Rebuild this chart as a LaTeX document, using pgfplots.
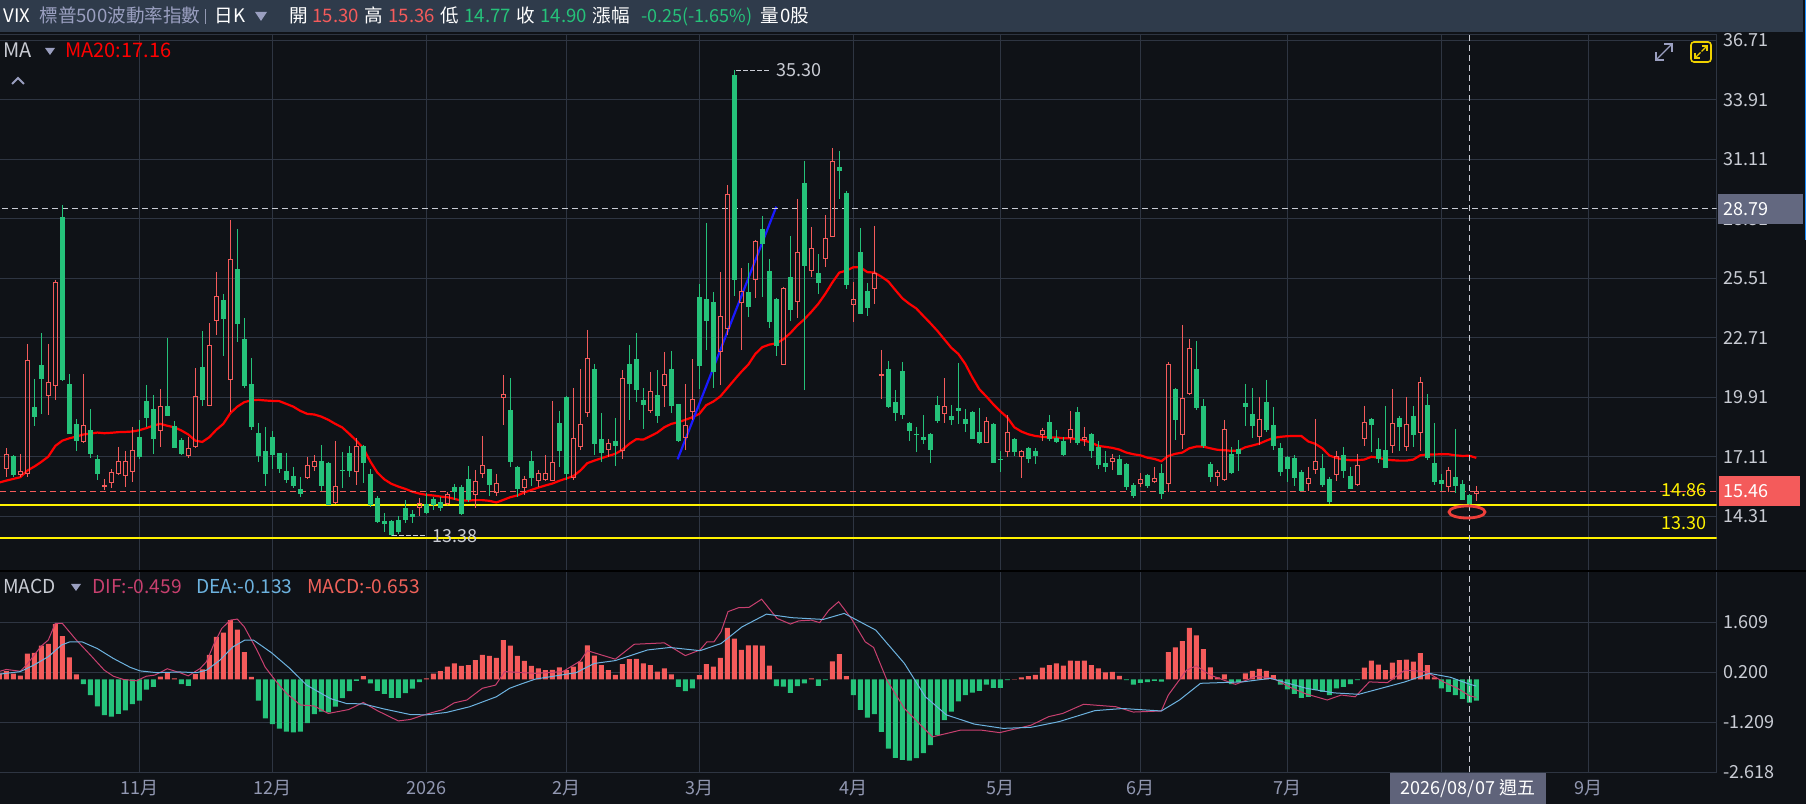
\documentclass[border=0pt]{standalone}
\usepackage{fontspec}
\usepackage{pgfplots}
\usepackage{pgfplotstable}
\pgfplotsset{compat=1.18}
\setmainfont{Noto Sans CJK TC}
\definecolor{bgc}{HTML}{0F1217}
\definecolor{hdr}{HTML}{2F3B4B}
\definecolor{gridc}{HTML}{2E3542}
\definecolor{cUp}{HTML}{F45B5B}
\definecolor{cDn}{HTML}{25C27A}
\definecolor{lab}{HTML}{C9CCD4}
\definecolor{mon}{HTML}{9298B2}
\definecolor{tri}{HTML}{9A9FC0}
\definecolor{difc}{HTML}{C8406F}
\definecolor{deac}{HTML}{6DB3E0}
\definecolor{blu1}{HTML}{1A1AFF}
\definecolor{sliver}{HTML}{1E90FF}
\definecolor{macdt}{HTML}{F0625A}
\definecolor{boxg}{HTML}{636880}
\definecolor{boxd}{HTML}{5F637A}
\definecolor{ygold}{HTML}{F0D200}
\definecolor{ell}{HTML}{EE3F3A}
\newcommand{\lbl}{\fontsize{9}{11}\selectfont}
\newcommand{\lblh}{\fontsize{9.3}{11}\selectfont}
\newcommand{\lbla}{\fontsize{10}{12}\selectfont}
\newcommand{\lblm}{\fontsize{9.6}{12}\selectfont}
\pgfplotstableread{
i o h l c
-1 16.73 17.12 16.18 16.34
0 16.57 17.51 16.18 17.23
1 17.15 17.18 16.18 16.26
2 16.27 17.25 16.18 16.43
3 16.34 22.42 16.18 21.65
4 19.44 20.78 18.57 19.00
5 21.44 22.93 19.13 20.78
6 19.99 22.42 19.08 20.62
7 20.46 25.44 19.79 25.29
8 28.38 28.96 20.68 20.73
9 20.54 21.01 18.19 18.19
10 18.66 18.89 17.36 17.83
11 17.84 21.01 17.75 18.60
12 18.38 19.35 17.03 17.25
13 17.01 17.18 16.00 16.31
14 15.73 16.05 15.55 15.76
15 15.90 16.53 15.62 16.38
16 16.32 17.58 16.24 16.90
17 16.23 17.39 15.71 16.90
18 16.42 18.50 15.93 17.42
19 18.05 18.85 17.00 17.11
20 19.74 20.49 18.50 18.94
21 19.36 20.02 17.25 17.95
22 18.35 20.31 17.59 19.49
23 19.51 22.69 19.04 19.04
24 18.57 18.80 17.53 17.53
25 17.91 17.98 17.20 17.25
26 17.17 18.06 17.07 17.51
27 17.59 21.29 17.51 19.96
28 21.34 23.04 19.52 19.79
29 19.52 23.40 19.52 22.36
30 23.54 25.81 22.85 24.67
31 24.49 24.78 21.87 23.60
32 20.75 28.26 19.24 26.41
33 25.95 27.84 22.49 23.36
34 22.66 23.65 20.37 20.45
35 20.54 21.76 18.35 18.52
36 18.24 18.71 16.87 17.15
37 17.39 18.52 15.74 16.31
38 18.05 18.33 16.53 17.20
39 17.29 17.29 16.37 16.54
40 16.45 17.29 15.87 16.02
41 16.21 16.64 15.62 15.74
42 15.60 16.15 15.24 15.37
43 16.12 17.11 16.05 16.68
44 16.65 17.18 16.42 16.90
45 16.92 17.67 15.52 15.74
46 16.82 16.87 14.85 14.85
47 14.94 17.86 14.89 15.73
48 16.49 17.34 15.62 16.45
49 17.29 17.62 16.16 16.45
50 16.42 18.00 15.79 17.61
51 17.62 17.67 15.88 16.82
52 16.31 16.53 14.77 14.85
53 15.18 15.27 14.00 14.05
54 14.09 14.47 13.58 13.95
55 14.09 14.14 13.38 13.44
56 14.14 14.33 13.48 13.58
57 14.71 15.08 13.98 14.14
58 14.42 14.61 13.98 14.30
59 14.74 15.16 14.33 14.93
60 14.89 15.40 14.42 14.47
61 15.13 15.24 14.61 14.86
62 14.99 15.24 14.56 14.71
63 14.89 15.47 14.85 15.35
64 15.69 15.84 15.08 15.44
65 15.69 15.79 14.38 14.42
66 16.07 16.68 15.00 15.08
67 15.32 16.49 14.71 15.96
68 16.31 18.09 16.13 16.71
69 16.54 16.54 15.27 15.79
70 15.43 16.31 15.27 15.87
71 19.88 20.96 18.61 20.05
72 19.32 20.82 16.65 16.87
73 16.64 16.70 15.24 15.60
74 15.66 16.21 15.29 16.05
75 16.92 17.39 15.74 16.12
76 16.00 16.49 15.71 16.34
77 16.04 17.20 16.02 16.34
78 16.00 19.74 15.98 16.86
79 18.71 19.27 16.65 17.39
80 19.93 19.98 16.02 16.31
81 16.15 20.35 16.02 17.98
82 17.59 21.25 17.44 18.64
83 19.19 23.08 18.97 21.75
84 21.25 21.48 17.20 17.72
85 17.95 19.18 16.87 17.29
86 17.45 17.95 17.12 17.75
87 17.86 18.94 16.68 17.62
88 17.42 21.18 17.01 20.81
89 21.48 22.38 18.85 20.54
90 21.72 22.94 19.69 20.26
91 19.79 20.34 18.42 19.55
92 19.27 21.11 19.16 20.20
93 20.02 21.18 18.71 19.04
94 20.46 22.05 19.47 21.00
95 21.25 22.09 19.18 19.51
96 19.60 19.60 17.81 17.86
97 18.00 20.53 17.44 18.60
98 19.24 21.70 18.85 19.82
99 24.64 25.25 20.29 21.39
100 24.54 28.12 22.14 23.51
101 24.40 24.87 20.35 21.11
102 22.06 25.81 20.49 23.73
103 23.15 29.91 22.85 29.47
104 35.08 35.30 24.68 25.44
105 24.37 25.98 22.14 24.89
106 24.87 26.22 23.71 24.16
107 25.47 27.32 24.57 27.25
108 27.84 28.45 24.65 27.13
109 25.86 26.42 23.19 23.46
110 24.54 24.60 21.83 22.33
111 21.47 25.11 21.44 25.04
112 25.58 27.51 23.52 24.02
113 24.42 29.25 23.62 26.74
114 30.00 31.04 20.23 26.09
115 25.89 27.93 25.59 26.93
116 25.76 26.66 24.79 25.29
117 26.45 28.49 26.06 27.40
118 27.49 31.65 27.49 31.02
119 30.75 31.51 29.25 30.58
120 29.51 29.62 25.01 25.20
121 24.27 25.34 23.46 24.53
122 26.75 27.88 23.84 23.84
123 24.92 25.28 23.74 24.12
124 25.03 27.98 24.31 25.75
125 20.93 22.14 19.84 21.00
126 21.25 21.62 19.41 19.46
127 19.69 20.26 18.80 19.18
128 21.15 21.58 18.89 19.08
129 18.71 18.75 17.86 18.33
130 18.19 18.52 17.34 18.14
131 18.05 19.08 17.72 17.91
132 18.19 18.24 16.82 17.44
133 19.55 19.98 18.71 18.80
134 19.14 20.81 18.72 19.49
135 19.04 19.55 18.61 18.85
136 19.41 21.53 18.66 19.27
137 18.89 19.36 18.28 18.66
138 19.22 19.27 17.95 17.95
139 18.28 19.41 17.72 17.76
140 17.78 18.97 17.78 18.78
141 18.66 18.71 16.82 16.82
142 17.01 17.39 16.40 16.96
143 17.36 19.08 17.11 18.27
144 17.95 18.00 17.15 17.34
145 17.12 17.44 16.12 17.37
146 17.53 17.58 16.82 17.01
147 17.39 17.53 16.78 17.15
148 18.16 18.47 17.86 18.36
149 18.75 19.08 17.86 17.95
150 18.00 18.38 17.76 17.81
151 17.86 18.05 17.15 17.20
152 18.02 19.25 17.78 18.41
153 19.22 19.46 17.67 17.76
154 17.94 18.52 17.62 18.03
155 18.19 18.24 17.06 17.39
156 17.58 17.86 16.54 16.73
157 16.82 17.39 16.40 16.64
158 16.87 17.25 16.49 17.01
159 17.01 17.20 16.26 16.26
160 16.78 16.82 15.55 15.69
161 15.79 15.88 15.18 15.27
162 15.84 16.35 15.69 16.05
163 16.26 16.31 15.65 15.74
164 15.95 16.64 15.88 16.07
165 16.35 16.78 15.13 15.37
166 15.85 21.58 15.46 21.47
167 20.31 20.35 17.91 18.85
168 18.14 23.32 17.48 19.87
169 20.07 22.66 20.02 22.22
170 21.25 22.56 19.32 19.41
171 19.51 19.84 17.53 17.62
172 16.78 16.87 15.93 16.16
173 16.18 16.49 15.74 16.38
174 16.02 18.85 15.99 18.41
175 17.25 17.58 16.31 16.35
176 17.48 17.91 16.45 17.25
177 19.65 20.54 18.57 19.46
178 19.13 20.35 18.00 18.57
179 18.06 19.93 17.67 18.88
180 19.69 20.73 18.28 18.38
181 18.61 19.46 17.44 17.62
182 17.53 17.76 16.21 16.40
183 17.11 17.15 15.93 16.54
184 17.06 17.20 15.74 16.12
185 16.40 16.49 15.51 15.51
186 15.85 16.64 15.51 16.10
187 16.51 18.89 16.31 16.90
188 16.59 17.25 15.69 15.79
189 16.07 16.16 14.89 14.99
190 16.27 17.39 15.98 17.12
191 17.20 17.58 16.12 16.45
192 16.21 16.64 15.60 15.60
193 15.79 17.25 15.76 16.71
194 17.97 19.51 17.62 18.74
195 18.89 18.94 17.34 18.61
196 17.48 18.00 16.82 17.01
197 17.44 19.51 16.59 16.59
198 17.64 20.31 17.29 18.69
199 18.94 19.04 17.39 18.52
200 17.59 19.93 17.39 18.64
201 19.04 19.51 17.58 18.14
202 18.25 20.87 17.39 20.62
203 19.55 20.07 16.96 17.06
204 16.82 18.71 15.79 15.93
205 16.02 16.31 15.51 15.84
206 15.71 16.64 15.47 16.48
207 16.16 18.42 15.41 15.74
208 15.84 16.02 15.08 15.08
209 15.30 15.36 14.77 14.90
210 15.39 15.74 15.04 15.46
}\candles
\pgfplotstableread{
i v
-1 15.90
0 15.99
1 16.07
2 16.15
3 16.46
4 16.65
5 16.87
6 17.12
7 17.62
8 17.87
9 17.98
10 18.06
11 18.16
12 18.20
13 18.25
14 18.22
15 18.24
16 18.27
17 18.28
18 18.30
19 18.36
20 18.46
21 18.58
22 18.66
23 18.57
24 18.50
25 18.35
26 18.16
27 17.87
28 17.81
29 18.03
30 18.38
31 18.66
32 19.16
33 19.47
34 19.68
35 19.77
36 19.79
37 19.76
38 19.74
39 19.73
40 19.60
41 19.47
42 19.27
43 19.13
44 19.10
45 19.00
46 18.85
47 18.66
48 18.49
49 18.19
50 17.87
51 17.51
52 16.89
53 16.37
54 16.05
55 15.84
56 15.71
57 15.60
58 15.47
59 15.38
60 15.32
61 15.29
62 15.24
63 15.21
64 15.13
65 15.05
66 15.05
67 15.07
68 15.07
69 15.04
70 14.96
71 15.08
72 15.21
73 15.29
74 15.43
75 15.55
76 15.66
77 15.76
78 15.85
79 15.98
80 16.09
81 16.20
82 16.46
83 16.81
84 16.93
85 17.04
86 17.15
87 17.25
88 17.44
89 17.72
90 17.94
91 17.92
92 18.08
93 18.25
94 18.50
95 18.66
96 18.74
97 18.85
98 18.97
99 19.13
100 19.54
101 19.71
102 19.95
103 20.34
104 20.73
105 21.11
106 21.45
107 21.95
108 22.27
109 22.39
110 22.45
111 22.64
112 22.93
113 23.29
114 23.58
115 23.93
116 24.31
117 24.78
118 25.31
119 25.78
120 25.87
121 26.03
122 26.03
123 25.80
124 25.78
125 25.59
126 25.36
127 24.96
128 24.57
129 24.31
130 24.09
131 23.74
132 23.40
133 23.04
134 22.64
135 22.24
136 21.95
137 21.48
138 20.85
139 20.29
140 19.95
141 19.58
142 19.25
143 18.96
144 18.50
145 18.30
146 18.17
147 18.09
148 18.05
149 18.02
150 18.02
151 17.98
152 17.98
153 17.94
154 17.87
155 17.78
156 17.62
157 17.58
158 17.53
159 17.45
160 17.31
161 17.23
162 17.18
163 17.07
164 17.01
165 16.90
166 17.15
167 17.25
168 17.31
169 17.51
170 17.59
171 17.59
172 17.51
173 17.44
174 17.42
175 17.39
176 17.40
177 17.56
178 17.64
179 17.73
180 17.87
181 18.00
182 18.05
183 18.08
184 18.09
185 18.09
186 17.83
187 17.72
188 17.51
189 17.17
190 17.06
191 16.98
192 16.95
193 16.95
194 16.98
195 17.11
196 17.07
197 16.98
198 16.95
199 16.93
200 16.93
201 16.98
202 17.18
203 17.22
204 17.22
205 17.23
206 17.23
207 17.18
208 17.15
209 17.16
210 17.06
}\matab
\pgfplotstableread{
i m
-1 .17
0 .23
1 .16
2 .11
3 .73
4 .75
5 .95
6 1.00
7 1.56
8 1.22
9 .62
10 .14
11 -.13
12 -.44
13 -.76
14 -1.01
15 -1.05
16 -.97
17 -.87
18 -.70
19 -.60
20 -.29
21 -.21
22 .08
23 .19
24 .03
25 -.13
26 -.18
27 .15
28 .28
29 .69
30 1.20
31 1.32
32 1.67
33 1.40
34 .77
35 .07
36 -.60
37 -1.10
38 -1.26
39 -1.39
40 -1.47
41 -1.49
42 -1.47
43 -1.23
44 -.98
45 -.91
46 -.93
47 -.77
48 -.53
49 -.33
50 -.04
51 .09
52 -.11
53 -.32
54 -.41
55 -.52
56 -.52
57 -.39
58 -.26
59 -.08
60 .03
61 .16
62 .23
63 .36
64 .45
65 .38
66 .40
67 .54
68 .69
69 .66
70 .61
71 1.11
72 .95
73 .66
74 .52
75 .38
76 .31
77 .26
78 .27
79 .34
80 .26
81 .36
82 .50
83 .96
84 .67
85 .40
86 .26
87 .13
88 .43
89 .57
90 .58
91 .45
92 .40
93 .22
94 .31
95 .14
96 -.21
97 -.33
98 -.25
99 .12
100 .43
101 .36
102 .61
103 1.45
104 1.15
105 .83
106 .96
107 .96
108 .95
109 .39
110 -.19
111 -.20
112 -.38
113 -.19
114 -.11
115 .03
116 -.18
117 -.02
118 .51
119 .71
120 .09
121 -.44
122 -.86
123 -1.08
124 -.98
125 -1.48
126 -1.95
127 -2.21
128 -2.27
129 -2.29
130 -2.22
131 -2.08
132 -1.85
133 -1.57
134 -1.15
135 -.91
136 -.62
137 -.44
138 -.37
139 -.32
140 -.15
141 -.24
142 -.24
143 -.02
144 .01
145 .06
146 .09
147 .13
148 .33
149 .40
150 .45
151 .39
152 .53
153 .52
154 .53
155 .40
156 .31
157 .20
158 .21
159 .10
160 -.02
161 -.15
162 -.10
163 -.08
164 -.04
165 -.06
166 .77
167 .90
168 1.08
169 1.45
170 1.24
171 .85
172 .34
173 .06
174 .14
175 -.13
176 -.07
177 .17
178 .24
179 .30
180 .24
181 .12
182 -.15
183 -.28
184 -.41
185 -.52
186 -.49
187 -.30
188 -.35
189 -.44
190 -.25
191 -.21
192 -.13
193 -.02
194 .33
195 .53
196 .42
197 .26
198 .47
199 .54
200 .56
201 .50
202 .74
203 .40
204 .06
205 -.25
206 -.35
207 -.44
208 -.55
209 -.653
210 -.60
}\macdtab
\pgfplotstableread{
i v
-0.9 .23
0 .28
2 .23
3 .43
4 .69
5 .94
6 1.11
7 1.58
8 1.58
10 1.11
12 .69
14 .26
15.3 .09
16.7 0
18.6 -.04
20 .09
21.2 .12
23 .30
24.8 .19
26 .10
27.7 .31
28.6 .50
29.6 .97
30.8 1.44
32 1.67
33 1.70
34 1.48
35.8 .83
37 .34
38.6 -.07
40 -.39
42 -.72
44 -.75
46 -.96
48.9 -.85
51 -.65
53 -.88
56 -1.17
57.7 -1.13
60 -.98
62.4 -.85
64 -.66
65.8 -.58
68 -.25
69.9 -.16
71.2 .22
75.6 .17
79.5 .22
82 .52
83 .81
87 .57
89.7 .99
94 1.03
97 .67
99.1 .83
100.1 1.06
101.1 1.06
102.1 1.34
103.1 1.91
104.6 2.02
106.1 2.03
107.9 2.26
110.1 1.72
112 1.56
113.2 1.65
115 1.67
116.2 1.60
117.5 1.95
118.9 2.19
120.7 1.72
122.7 1.06
123.9 .90
125.8 -.02
128.3 -.82
132.3 -1.62
136.3 -1.43
139.3 -1.43
141.9 -1.50
146.4 -1.29
148.9 -1.05
150.9 -.96
153.9 -.70
158.5 -.77
161 -.92
165 -.89
166 -.44
168.6 .26
170 .38
172 .12
175.6 -.14
178.6 .09
181 .03
183.7 -.25
185.7 -.41
188.7 -.58
190.7 -.44
192.7 -.49
194.7 -.07
197.3 -.09
199.8 .26
202.8 .22
205.3 -.07
207.3 -.25
209 -.459
210 -.51
}\diftab
\pgfplotstableread{
i v
-0.9 .15
2 .22
3.9 .40
6 .64
7.9 .97
9.1 1.06
10.8 1.06
13 .87
15.3 .59
17.7 .34
19.1 .24
21.5 .19
24.8 .21
27.2 .19
28.6 .26
30.5 .54
32.4 .92
34.1 1.11
35.3 1.11
37.9 .75
40.5 .31
42.9 -.16
46.3 -.54
48.6 -.68
51 -.69
53.9 -.83
57.7 -.99
60 -1.00
62.9 -.93
66.2 -.77
70 -.49
71.9 -.25
73.4 -.14
75.6 .01
81.4 .19
84 .45
87 .53
91.6 .83
94.8 .90
99.1 .81
102.1 1.01
105.1 1.48
108.6 1.84
112.2 1.74
116.7 1.69
119.7 1.86
124.2 1.39
128.3 .45
131.3 -.49
134.3 -1.00
138.3 -1.26
142.4 -1.38
146.4 -1.35
150.4 -1.19
155.5 -.88
159.5 -.82
165 -.89
167.6 -.58
170.6 -.11
176.6 -.07
180.6 .03
185.7 -.25
189.7 -.38
193.2 -.42
196.8 -.23
199.8 -.07
203.3 .17
206.3 .06
209 -.133
210 -.19
}\deatab
\def\K{10.625}
\pgfdeclareplotmark{candle}{%
  \ifdim \vC pt>0pt
    \pgfsetstrokecolor{cUp}\pgfsetlinewidth{0.5pt}%
    \pgfpathmoveto{\pgfpoint{0pt}{\vH pt}}\pgfpathlineto{\pgfpoint{0pt}{\vC pt}}%
    \pgfpathmoveto{\pgfpoint{0pt}{0pt}}\pgfpathlineto{\pgfpoint{0pt}{\vL pt}}%
    \pgfpathrectangle{\pgfpoint{-1pt}{0pt}}{\pgfpoint{2pt}{\vC pt}}%
    \pgfusepath{stroke}%
  \else
    \pgfsetstrokecolor{cDn}\pgfsetfillcolor{cDn}\pgfsetlinewidth{0.5pt}%
    \pgfpathmoveto{\pgfpoint{0pt}{\vH pt}}\pgfpathlineto{\pgfpoint{0pt}{\vL pt}}%
    \pgfusepath{stroke}%
    \pgfpathrectangle{\pgfpoint{-1.25pt}{0pt}}{\pgfpoint{2.5pt}{\vC pt}}%
    \pgfusepath{fill}%
  \fi
}
\pgfplotsset{
  chart/.style={
    scale only axis, width=858.35pt,
    xmin=-0.9, xmax=244.34,
    xtick={19,38,60,80,99,121,142,162,183,205,226},
    axis line style={gridc,line width=0.5pt},
    grid=major, grid style={gridc,line width=0.5pt},
    major tick length=0pt, clip=true,
    axis background/.style={fill=bgc},
    yticklabel pos=right, scaled y ticks=false,
    yticklabel style={anchor=west,inner sep=0pt,xshift=3pt,text=lab,font=\lbl},
  }
}
\newcommand{\T}[5][\lbl]{\node[anchor=base west,inner sep=0pt,text=#4,font=#1] at (#2,#3+6.5) {#5};}
\newcommand{\Tr}[4]{\node[anchor=base east,inner sep=0pt,text=#3,font=\lbl] at (#1,#2+6.5) {#4};}
\begin{document}
\begin{tikzpicture}
\path[use as bounding box,fill=bgc] (0,0) rectangle (903pt,402pt);
\begin{axis}[chart, at={(0pt,116.5pt)}, anchor=south west, height=268pt,
  ymin=11.736, ymax=36.959,
  ytick={14.31,17.11,19.91,22.71,25.51,28.31,31.11,33.91,36.71},
  yticklabel style={/pgf/number format/.cd,fixed,fixed zerofill,precision=2,assume math mode=true},
  xticklabels={}]
\addplot[scatter,only marks,mark=candle,
  visualization depends on={(\thisrow{h}-\thisrow{o})*\K \as \vH},
  visualization depends on={(\thisrow{l}-\thisrow{o})*\K \as \vL},
  visualization depends on={(\thisrow{c}-\thisrow{o})*\K \as \vC}]
  table[x=i,y=o]{\candles};
\addplot[no marks,color=red,line width=1.1pt] table[x=i,y=v]{\matab};
\addplot[no marks,color=blu1,line width=1.1pt] coordinates {(95.9,16.99) (110,28.88)};
\addplot[no marks,color=yellow,line width=1pt] coordinates {(-0.9,14.86) (244.34,14.86)};
\addplot[no marks,color=yellow,line width=1pt] coordinates {(-0.9,13.30) (244.34,13.30)};
\addplot[no marks,color=cUp,line width=0.5pt,dash pattern=on 3pt off 2pt] coordinates {(-0.9,15.46) (244.34,15.46)};
\addplot[no marks,color=lab,line width=0.5pt,dash pattern=on 3pt off 2pt] coordinates {(-0.6,28.79) (244.34,28.79)};
\addplot[no marks,color=lab,line width=0.5pt,dash pattern=on 3pt off 2pt] coordinates {(209,11.736) (209,36.959)};
\end{axis}
\begin{axis}[chart, at={(0pt,15.85pt)}, anchor=south west, height=100.65pt,
  ymin=-2.618, ymax=3.055,
  ytick={-2.618,-1.209,0.2,1.609},
  yticklabel style={/pgf/number format/.cd,fixed,fixed zerofill,precision=3,assume math mode=true},
  xticklabels={11月,12月,2026,2月,3月,4月,5月,6月,7月,{},9月},
  xticklabel style={text=mon,font=\lbl,anchor=center,yshift=-8pt}]
\addplot[ybar,bar width=2.5pt,bar shift=0pt,fill=cUp,draw=none,restrict y to domain=0:10] table[x=i,y=m]{\macdtab};
\addplot[ybar,bar width=2.5pt,bar shift=0pt,fill=cDn,draw=none,restrict y to domain=-10:0] table[x=i,y=m]{\macdtab};
\addplot[no marks,color=difc,line width=0.5pt] table[x=i,y=v]{\diftab};
\addplot[no marks,color=deac,line width=0.5pt] table[x=i,y=v]{\deatab};
\addplot[no marks,color=lab,line width=0.5pt,dash pattern=on 3pt off 2pt] coordinates {(209,-2.618) (209,3.055)};
\end{axis}
\begin{scope}[shift={(0pt,402pt)},x=0.5pt,y=-0.5pt]
\fill[hdr] (0,0) rectangle (1803,32);
\fill[sliver] (1804.5,0) rectangle (1806,240);
\draw[black,line width=1pt] (0,571) -- (1806,571);
\T[\lblh]{3}{16}{white}{VIX}
\T[\lblh]{39}{16}{tri}{標普500波動率指數}
\draw[mon,line width=0.5pt] (205,9) -- (205,24);
\T[\lblh]{214}{16}{white}{日K}
\fill[tri] (255,12) -- (267,12) -- (261,21) -- cycle;
\T[\lblh]{289}{16}{white}{開}
\T[\lblh]{312}{16}{cUp}{15.30}
\T[\lblh]{364}{16}{white}{高}
\T[\lblh]{388}{16}{cUp}{15.36}
\T[\lblh]{440}{16}{white}{低}
\T[\lblh]{464}{16}{cDn}{14.77}
\T[\lblh]{516}{16}{white}{收}
\T[\lblh]{540}{16}{cDn}{14.90}
\T[\lblh]{592}{16}{white}{漲幅}
\T{641}{16}{cDn}{-0.25(-1.65\%)}
\T[\lblh]{760}{16}{white}{量}
\T[\lblh]{780}{16}{white}{0股}
\T[\lbla]{3}{51}{lab}{MA}
\fill[tri] (45,48) -- (55,48) -- (50,55) -- cycle;
\T[\lbla]{65}{51}{red}{MA20:17.16}
\draw[tri,line width=1pt] (12,84) -- (18,78) -- (24,84);
\T[\lblm]{3}{587}{lab}{MACD}
\fill[tri] (71,584) -- (81,584) -- (76,591) -- cycle;
\T[\lblm]{92}{587}{difc}{DIF:-0.459}
\T[\lblm]{196}{587}{deac}{DEA:-0.133}
\T[\lblm]{307}{587}{macdt}{MACD:-0.653}
\T{776}{70}{lab}{35.30}
\draw[lab,line width=0.5pt,dash pattern=on 2.5pt off 1pt] (736,70.5) -- (770,70.5);
\T{432}{536}{lab}{13.38}
\draw[lab,line width=0.5pt,dash pattern=on 2.5pt off 1pt] (392,536) -- (427,536);
\Tr{1707}{490}{yellow}{14.86}
\Tr{1707}{523}{yellow}{13.30}
\fill[boxg] (1718,194) rectangle (1803,224);
\T{1723}{209}{white}{28.79}
\fill[cUp] (1718.5,476) rectangle (1800,506);
\T{1723}{491}{white}{15.46}
\draw[ell,line width=1.4pt] (1467,512) ellipse (18 and 6);
\fill[boxd] (1390,773) rectangle (1546,804);
\node[inner sep=0pt,text=white,font=\lbl,anchor=base] at (1468,794) {2026/08/07 週五};
\draw[tri,line width=0.7pt] (1656,60) -- (1672,44);
\draw[tri,line width=0.7pt] (1656,52) -- (1656,60) -- (1664,60);
\draw[tri,line width=0.7pt] (1664,44) -- (1672,44) -- (1672,52);
\draw[ygold,line width=0.8pt,rounded corners=1.5pt] (1691,42) rectangle (1711,62);
\draw[ygold,line width=0.7pt] (1695,58) -- (1700.5,52.5);
\draw[ygold,line width=0.7pt] (1695,53) -- (1695,58) -- (1700,58);
\draw[ygold,line width=0.7pt] (1702,46) -- (1707,46) -- (1707,51);
\draw[ygold,line width=0.7pt] (1707,46) -- (1701.5,51.5);
\end{scope}
\end{tikzpicture}
\end{document}
